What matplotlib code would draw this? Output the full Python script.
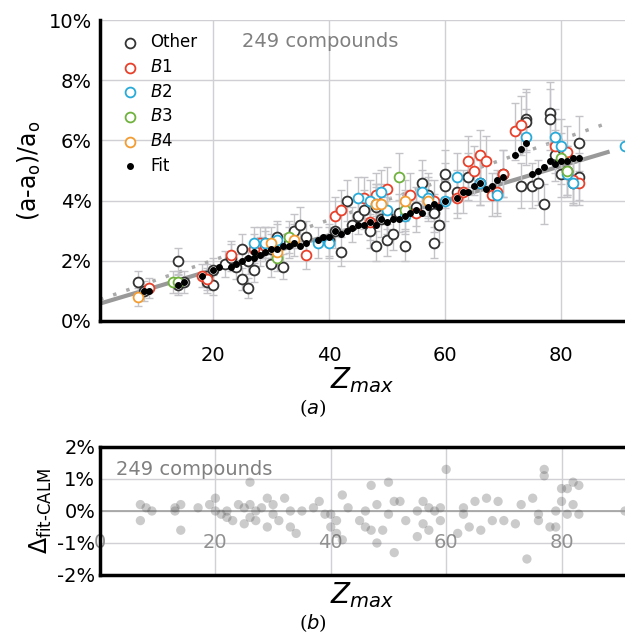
import matplotlib
matplotlib.use("Agg")
import matplotlib.pyplot as plt
import numpy as np

# ---- data ----
other_z = [7,8,14,14,15,19,19,20,20,22,23,24,25,25,26,26,27,28,29,30,30,31,32,33,34,35,36,40,41,42,43,44,45,46,47,48,48,49,50,50,51,52,53,55,56,57,58,58,59,60,60,62,64,66,70,73,74,74,75,76,77,78,78,79,80,81,82,83,83]
other_v = [1.3,1.0,2.0,1.2,1.3,1.5,1.3,1.7,1.2,1.9,2.1,1.8,2.4,1.4,1.1,2.0,1.7,2.3,2.6,1.9,2.4,2.8,1.8,2.6,3.0,3.2,2.8,2.7,3.0,2.3,4.0,3.2,3.5,3.7,3.0,2.5,3.8,3.4,2.7,3.5,2.9,3.6,2.5,3.8,4.6,4.2,3.6,2.6,3.2,4.5,4.9,4.3,4.8,4.6,4.9,4.5,6.7,6.6,4.5,4.6,3.9,6.9,6.7,5.5,4.9,5.0,4.6,5.9,4.8]
b1_z = [9,18,19,23,27,28,29,36,41,42,46,47,48,50,54,55,58,62,63,64,65,66,67,68,69,70,72,73,79,81,82,83]
b1_v = [1.1,1.5,1.4,2.2,2.4,2.6,2.5,2.2,3.5,3.7,4.1,3.3,4.2,4.4,4.2,3.6,4.0,4.1,4.3,5.3,5.0,5.5,5.3,4.2,4.3,4.9,6.3,6.5,5.8,5.6,4.7,4.6]
b2_z = [27,29,31,38,40,45,47,48,49,50,53,56,57,60,62,66,69,74,79,80,81,82]
b2_v = [2.6,2.6,2.7,2.6,2.6,4.1,4.0,3.9,4.3,3.7,3.5,4.3,4.1,4.0,4.8,4.6,4.2,6.1,6.1,5.8,4.9,4.6]
b3_z = [13,14,31,33,52,53,80,81]
b3_v = [1.3,1.3,2.1,2.8,4.8,3.7,5.4,5.0]
b4_z = [7,30,31,34,48,49,53,57]
b4_v = [0.8,2.6,2.3,2.7,3.9,3.9,4.0,4.0]
fit_z = [8,9,14,15,18,20,21,23,24,25,26,27,27,28,29,30,31,32,33,34,35,36,38,39,40,41,42,43,44,45,46,47,48,49,50,51,52,53,54,55,56,57,58,59,60,62,63,64,65,66,67,68,69,70,72,73,74,75,76,77,78,79,80,81,82,83]
fit_v = [1.0,1.0,1.2,1.3,1.5,1.7,1.8,1.8,1.9,2.0,2.1,2.1,2.3,2.2,2.3,2.4,2.4,2.5,2.5,2.6,2.5,2.6,2.7,2.8,2.8,3.0,2.9,3.0,3.1,3.2,3.2,3.3,3.2,3.4,3.3,3.4,3.4,3.5,3.6,3.7,3.6,3.8,3.9,3.8,4.0,4.1,4.3,4.3,4.5,4.6,4.4,4.5,4.7,4.8,5.5,5.7,5.9,4.9,5.0,5.1,5.3,5.2,5.3,5.3,5.4,5.4]
line_solid = (0.0575, 0.55)
line_dot = (0.067, 0.68)
edge_z = [91]; edge_v = [5.8]

res_z = [7,7,8,9,13,13,14,14,17,19,20,20,21,22,22,23,24,25,25,26,26,26,27,27,28,29,29,30,30,31,32,33,33,34,35,37,38,39,40,40,41,41,42,42,43,45,46,46,47,47,48,48,49,50,50,51,51,52,53,55,55,56,56,57,57,58,59,59,60,62,63,63,64,65,66,67,68,69,70,72,73,74,75,76,76,77,77,78,79,79,80,80,81,81,82,82,83,83]
res_v = [0.2,-0.3,0.1,0.0,0.0,0.1,-0.6,0.2,0.1,0.2,0.4,0.0,-0.1,-0.2,0.0,-0.3,0.2,-0.4,0.1,0.9,0.2,-0.2,0.0,-0.3,0.1,0.4,-0.5,0.2,-0.1,-0.3,0.4,-0.5,0.0,-0.7,0.0,0.1,0.3,-0.1,-0.5,-0.1,-0.7,-0.3,-0.9,0.5,0.1,-0.3,-0.5,0.0,0.8,-0.6,0.2,-1.0,-0.6,0.9,-0.1,0.3,-1.3,0.3,-0.3,0.0,-0.8,0.3,-0.4,0.1,-0.6,0.0,0.1,-0.3,1.3,-0.7,0.1,-0.1,-0.5,0.3,-0.6,0.4,-0.3,0.3,-0.3,-0.4,0.2,-1.5,0.4,-0.3,-0.1,1.3,1.1,-0.5,0.0,-0.5,0.7,0.3,-0.1,0.7,0.9,0.2,0.8,-0.1]

W, H = 625, 639
fig = plt.figure(figsize=(W/100, H/100), dpi=100)
plt.rcParams['font.family'] = ['DejaVu Sans']
ax = fig.add_axes([100/W, 1-321/H, 525/W, 301/H])
ax.set_xlim(0.5, 91)
ax.set_ylim(0, 10)
ax.set_yticks([0,2,4,6,8,10])
ax.set_yticklabels([f"{v}%" for v in [0,2,4,6,8,10]], fontsize=14)
ax.set_xticks([20,40,60,80])
ax.set_xticklabels(['20','40','60','80'], fontsize=14)
ax.tick_params(length=0, pad=18)
ax.tick_params(axis='y', pad=6)
ax.grid(True, color='#cfcfd4', lw=1)
ax.set_axisbelow(True)
for s in ['top','right']:
    ax.spines[s].set_visible(False)
for s in ['left','bottom']:
    ax.spines[s].set_linewidth(2.5)

xx = np.array([0.5, 88])
ax.plot(xx, line_dot[0]*xx+line_dot[1], ls=(0,(1,3)), color='#aaaaaa', lw=2.5, zorder=2)
ax.plot(xx, line_solid[0]*xx+line_solid[1], color='#999999', lw=3, zorder=2)

groups = [(other_z, other_v, '#333333', 'Other'), (b1_z, b1_v, '#e8402a', '$B$1'),
          (b2_z, b2_v, '#29abd9', '$B$2'), (b3_z, b3_v, '#70b23d', '$B$3'),
          (b4_z, b4_v, '#f39c32', '$B$4')]
for z, v, c, lab in groups:
    z = np.array(z); v = np.array(v)
    ax.errorbar(z, v, yerr=0.12*v+0.2, fmt='none', ecolor='#c4c4c8', elinewidth=1, capsize=3, zorder=3)
for z, v, c, lab in groups:
    ax.scatter(z, v, s=50, facecolors='white', edgecolors=c, linewidths=1.3, label=lab, zorder=4)
ax.scatter(edge_z, edge_v, s=50, facecolors='white', edgecolors='#29abd9', linewidths=1.3, zorder=4, clip_on=False)
ax.scatter(fit_z, fit_v, s=16, color='black', label='Fit', zorder=5)
leg = ax.legend(loc='upper left', frameon=False, fontsize=12, handletextpad=0.2, labelspacing=0.4, borderaxespad=0.4)
ax.text(0.27, 0.96, '249 compounds', transform=ax.transAxes, fontsize=14, color='#808080', va='top')
ax.set_ylabel('(a-a$_\\mathrm{o}$)/a$_\\mathrm{o}$', fontsize=17, labelpad=4)
ax.set_xlabel('$Z_{max}$', fontsize=20, labelpad=0)
fig.text(0.5, 1-414/H, '($a$)', ha='center', fontsize=14, family='serif')

ax2 = fig.add_axes([100/W, 1-575/H, 525/W, 128/H])
ax2.set_xlim(0, 91)
ax2.set_ylim(-2, 2)
ax2.set_yticks([-2,-1,0,1,2])
ax2.set_yticklabels([f"{v}%" for v in [-2,-1,0,1,2]], fontsize=14)
ax2.set_xticks([0,20,40,60,80])
ax2.grid(True, color='#d0d0d5', lw=1)
ax2.axhline(0, color='#a0a0a0', lw=1.2)
ax2.set_axisbelow(True)
ax2.tick_params(length=0, labelbottom=False)
for x in [0,20,40,60,80]:
    ax2.text(x, -1, str(x), ha='center', va='center', fontsize=14, color='#909090', zorder=1)
for s in ax2.spines.values():
    s.set_linewidth(2.5)
ax2.spines['right'].set_visible(False)
ax2.scatter(res_z, res_v, s=45, color='#555555', alpha=0.3, edgecolors='none', zorder=3)
ax2.scatter([91], [0], s=45, color='#555555', alpha=0.3, edgecolors='none', clip_on=False)
ax2.text(0.03, 0.9, '249 compounds', transform=ax2.transAxes, fontsize=14, color='#808080', va='top')
ax2.set_ylabel('$\\Delta_{\\mathrm{fit\\text{-}CALM}}$', fontsize=17, labelpad=2)
ax2.set_xlabel('$Z_{max}$', fontsize=20, labelpad=4)
fig.text(0.5, 0.015, '($b$)', ha='center', fontsize=14, family='serif')
fig.savefig('out.png', dpi=100)
